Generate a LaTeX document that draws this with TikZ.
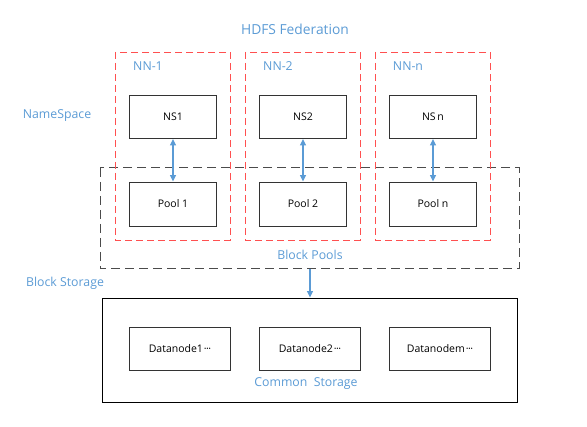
\documentclass[tikz,border=0pt]{standalone}
\usepackage{fontspec}
\setmainfont{Open Sans}
\usetikzlibrary{arrows.meta}
\definecolor{lblue}{RGB}{91,155,213}
\definecolor{lred}{RGB}{255,80,80}
\definecolor{dgray}{RGB}{75,75,75}
\newcommand{\mydots}{\kern1pt\textperiodcentered\kern-0.6pt\textperiodcentered\kern-0.6pt\textperiodcentered}
\tikzset{
  lbl/.style={text=lblue, font=\fontsize{12.3}{14}\selectfont, inner sep=0pt},
  ttl/.style={text=lblue, font=\fontsize{13.8}{16}\selectfont, inner sep=0pt},
  nnbox/.style={draw=lred, line width=0.8pt, dash pattern=on 7pt off 4pt},
  poolarea/.style={draw=dgray, line width=1pt, dash pattern=on 9pt off 5pt},
  ibox/.style={draw=black!80, line width=0.9pt, fill=white, font=\fontsize{10.5}{12}\selectfont},
  link/.style={draw=lblue, line width=1.1pt, {Triangle[length=6.5pt,width=6pt]}-{Triangle[length=6.5pt,width=6pt]}},
  down/.style={draw=lblue, line width=1.1pt, -{Triangle[length=6.5pt,width=6pt]}}
}
\begin{document}
\begin{tikzpicture}[x=1pt,y=-1pt]
\useasboundingbox (0,0) rectangle (587,427);
% Block pools area
\draw[poolarea] (100,168) rectangle (519,269);
% NN boxes
\draw[nnbox] (115,52) rectangle (230,240);
\draw[nnbox] (245,52) rectangle (360,240);
\draw[nnbox] (375,52) rectangle (490,240);
% labels
\node[ttl] (title) at (295,29) {HDFS Federation};
\node[lbl] (nn1) at (148,66) {NN-1};
\node[lbl] (nn2) at (278,66) {NN-2};
\node[lbl] (nnn) at (408,66) {NN-n};
\node[lbl] (nsl) at (57,116) {NameSpace};
\node[lbl] (bpl) at (310,255) {Block Pools};
\node[lbl] (bsl) at (65,283) {Block Storage};
% NS boxes
\node[ibox, minimum width=87pt, minimum height=43pt] (ns1) at (173,117) {NS1};
\node[ibox, minimum width=87pt, minimum height=43pt] (ns2) at (303,117) {NS2};
\node[ibox, minimum width=87pt, minimum height=43pt] (nsn) at (433,117) {NS\,n};
% Pool boxes
\node[ibox, minimum width=87pt, minimum height=44pt] (p1) at (173,204) {Pool 1};
\node[ibox, minimum width=87pt, minimum height=44pt] (p2) at (303,204) {Pool 2};
\node[ibox, minimum width=87pt, minimum height=44pt] (pn) at (433,204) {Pool n};
\draw[link] (ns1) -- (p1);
\draw[link] (ns2) -- (p2);
\draw[link] (nsn) -- (pn);
% Common storage
\node[draw=black, line width=0.9pt, minimum width=415pt, minimum height=104pt, inner sep=0pt] (cs) at (309.5,350) {};
\coordinate (bpbottom) at (310,269);
\draw[down] (bpbottom) -- (cs.north -| bpbottom);
\node[ibox, minimum width=101pt, minimum height=43.5pt] (d1) at (180,349) {Datanode1\mydots};
\node[ibox, minimum width=101pt, minimum height=43.5pt] (d2) at (310,349) {Datanode2\mydots};
\node[ibox, minimum width=101pt, minimum height=43.5pt] (dm) at (440,349) {Datanodem\mydots};
\node[lbl] (csl) at (306,384) {Common\ \ Storage};
\end{tikzpicture}
\end{document}
